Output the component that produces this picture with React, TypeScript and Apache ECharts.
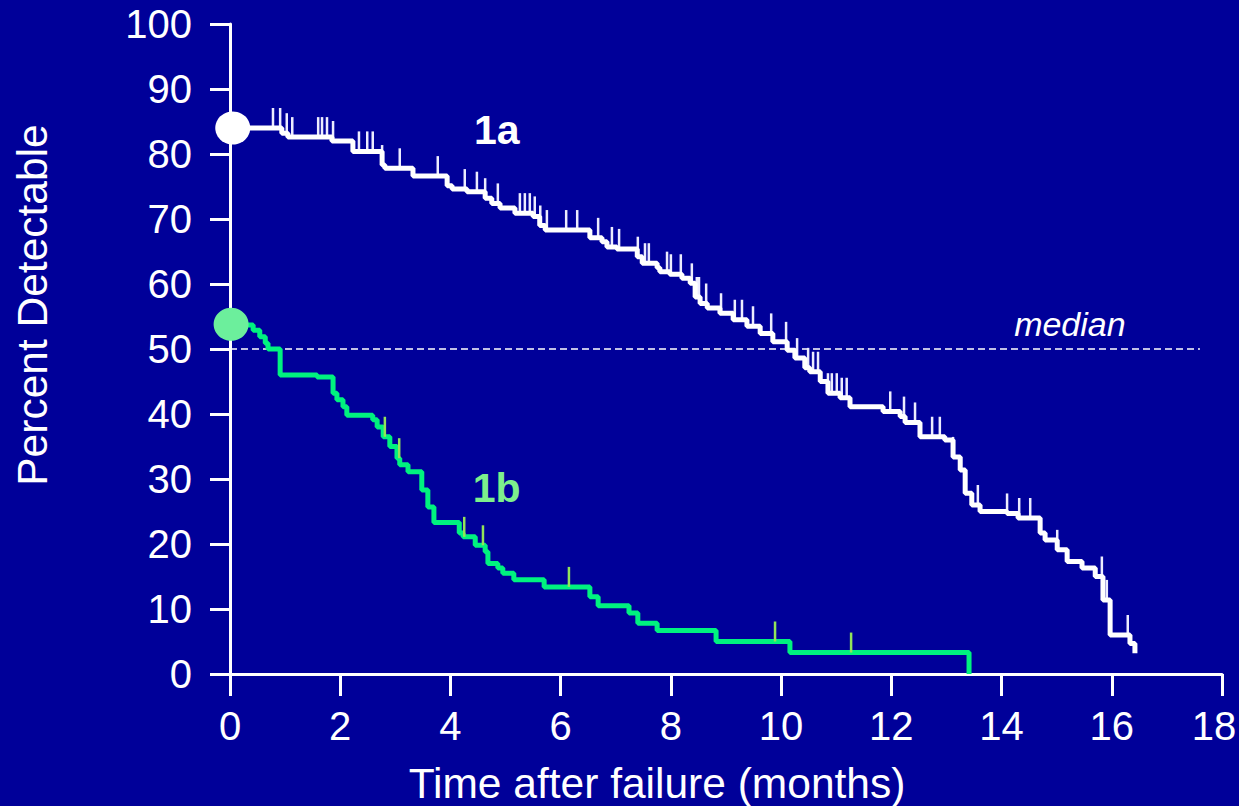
import React, { useEffect, useRef } from "react";
import * as echarts from "echarts";

// Kaplan-Meier style step curves: [time in months, percent detectable from that time on]
const curve1a: [number, number][] = [
  [0.05, 84], [0.94, 83.2], [1.05, 82.6], [1.85, 82.0], [2.23, 80.4], [2.76, 78.3], [2.81, 77.8],
  [3.32, 76.6], [3.94, 75.1], [4.03, 74.6], [4.3, 74.2], [4.63, 73.2], [4.75, 72.4], [4.9, 71.7],
  [5.17, 70.9], [5.5, 70.4], [5.62, 69.0], [5.72, 68.3], [6.53, 67.1], [6.75, 66.5], [6.84, 65.7],
  [7.02, 65.4], [7.39, 64.2], [7.48, 63.2], [7.75, 62.5], [7.8, 61.9], [7.98, 61.5], [8.2, 60.9],
  [8.35, 60.1], [8.44, 58.0], [8.53, 57.0], [8.66, 56.3], [8.89, 55.5], [9.13, 54.5], [9.38, 53.5],
  [9.62, 52.4], [9.85, 51.1], [10.11, 49.8], [10.25, 48.6], [10.43, 47.1], [10.52, 46.5],
  [10.71, 45.0], [10.85, 43.2], [11.07, 42.5], [11.25, 41.1], [11.85, 40.4], [12.16, 39.6],
  [12.25, 38.7], [12.52, 36.5], [12.97, 36.0], [13.12, 33.4], [13.25, 31.4], [13.34, 27.8],
  [13.46, 26.0], [13.61, 25.0], [14.1, 24.7], [14.3, 24.0], [14.7, 21.7], [14.79, 20.6],
  [15.01, 19.1], [15.19, 17.3], [15.46, 16.3], [15.7, 15.0], [15.84, 11.4], [15.97, 6.0],
  [16.33, 4.7], [16.42, 3.2],
];

const curve1b: [number, number][] = [
  [0.04, 53.7], [0.42, 52.9], [0.54, 51.9], [0.64, 50.9], [0.69, 50.0], [0.91, 46.0], [1.58, 45.7],
  [1.87, 43.2], [1.94, 42.2], [2.05, 41.1], [2.12, 39.8], [2.59, 39.1], [2.67, 38.0], [2.78, 36.5],
  [2.9, 35.0], [3.03, 33.2], [3.08, 32.2], [3.23, 31.1], [3.48, 28.3], [3.59, 25.7], [3.7, 23.3],
  [4.16, 21.7], [4.23, 21.1], [4.45, 19.8], [4.63, 18.8], [4.68, 17.0], [4.86, 16.3], [4.95, 15.5],
  [5.15, 14.5], [5.7, 13.4], [6.53, 11.9], [6.68, 10.5], [7.24, 9.4], [7.4, 7.8], [7.75, 6.7],
  [8.82, 5.0], [10.16, 3.3], [13.41, 0],
];

// Censored observation times (months)
const censored1a: number[] = [
  0.78, 0.91, 1.03, 1.13, 1.6, 1.67, 1.76, 1.87, 2.34, 2.49, 2.59, 2.76, 3.08, 3.77, 4.26, 4.48,
  4.63, 4.86, 5.26, 5.35, 5.44, 5.53, 5.63, 5.75, 6.1, 6.3, 6.68, 6.93, 7.06, 7.4, 7.53, 7.6, 7.93,
  8.0, 8.18, 8.38, 8.47, 8.51, 8.64, 8.91, 9.16, 9.29, 9.49, 9.82, 10.09, 10.29, 10.49, 10.58,
  10.67, 10.85, 10.92, 11.01, 11.1, 11.19, 11.98, 12.23, 12.43, 12.74, 12.88, 13.12, 13.57, 14.1,
  14.32, 14.52, 15.01, 15.82, 15.91, 16.29,
];
const censored1b: number[] = [2.81, 3.07, 4.25, 4.59, 6.15, 9.89, 11.27];

const xTicks = { min: 0, max: 18, interval: 2 };
const yTicks = { min: 0, max: 100, interval: 10 };
const medianValue = 50;
const medianEnd = 17.6;

const start1a: [number, number] = [0.05, 84];
const start1b: [number, number] = [0.02, 53.8];

const FONT = "'Liberation Sans', Arial, Helvetica, sans-serif";
const BG = "#000099";
const WHITE = "#ffffff";
const GREEN = "#00f27f";
const GREEN_MARK = "#92e35a";
const GREEN_DOT = "#6cef9c";
const GREEN_TEXT = "#7def8c";

function stepAt(steps: [number, number][], x: number): number {
  let v = steps[0][1];
  for (const [sx, sy] of steps) {
    if (sx <= x) v = sy;
    else break;
  }
  return v;
}

export default function App() {
  const ref = useRef<HTMLDivElement>(null);
  useEffect(() => {
    if (!ref.current) return;
    const chart = echarts.init(ref.current, undefined, { renderer: "svg" });
    const axisCommon = {
      axisLine: { show: true, lineStyle: { color: WHITE, width: 3 } },
      splitLine: { show: false },
    };
    const option: any = {
      animation: false,
      backgroundColor: BG,
      grid: { left: 230, right: 17, top: 24, bottom: 132, outerBoundsMode: "none", containLabel: false },
      xAxis: {
        type: "value",
        ...xTicks,
        ...axisCommon,
        axisTick: { show: true, length: 22, lineStyle: { color: WHITE, width: 3 } },
        axisLabel: {
          color: WHITE,
          fontSize: 40,
          fontFamily: FONT,
          margin: 32,
          formatter: (v: number) => (v === xTicks.max ? `{last|${v}}` : `${v}`),
          rich: {
            last: { color: WHITE, fontSize: 40, fontFamily: FONT, padding: [0, 16, 0, 0] },
          },
        },
      },
      yAxis: {
        type: "value",
        ...yTicks,
        ...axisCommon,
        axisTick: { show: true, length: 20, lineStyle: { color: WHITE, width: 3 } },
        axisLabel: { color: WHITE, fontSize: 40, fontFamily: FONT, margin: 38 },
      },
      graphic: [
        {
          type: "text",
          x: 32,
          y: 305,
          rotation: Math.PI / 2,
          style: {
            text: "Percent Detectable",
            fill: WHITE,
            font: `42.5px ${FONT}`,
            textAlign: "center",
            textVerticalAlign: "middle",
          },
        },
        {
          type: "text",
          x: 657,
          y: 783,
          style: {
            text: "Time after failure (months)",
            fill: WHITE,
            font: `42.5px ${FONT}`,
            textAlign: "center",
            textVerticalAlign: "middle",
          },
        },
      ],
      series: [
        {
          type: "line",
          name: "median",
          data: [[0, medianValue], [medianEnd, medianValue]],
          symbol: "none",
          lineStyle: { color: WHITE, width: 1.5, type: [7, 4] },
          z: 1,
          silent: true,
        },
        {
          type: "scatter",
          name: "censor 1a",
          data: censored1a.map((t) => [t, stepAt(curve1a, t)]),
          symbol: "rect",
          symbolSize: [2.5, 20],
          symbolOffset: [0, -10],
          itemStyle: { color: "#ececff", opacity: 1 },
          clip: false,
          z: 2,
        },
        {
          type: "scatter",
          name: "censor 1b",
          data: censored1b.map((t) => [t, stepAt(curve1b, t)]),
          symbol: "rect",
          symbolSize: [2.5, 20],
          symbolOffset: [0, -10],
          itemStyle: { color: GREEN_MARK, opacity: 1 },
          clip: false,
          z: 4,
        },
        {
          type: "line",
          name: "1a",
          step: "end",
          data: curve1a,
          symbol: "none",
          clip: false,
          lineStyle: { color: WHITE, width: 5 },
          z: 3,
        },
        {
          type: "line",
          name: "1b",
          step: "end",
          data: curve1b,
          symbol: "none",
          clip: false,
          lineStyle: { color: GREEN, width: 5 },
          z: 3,
        },
        {
          type: "scatter",
          name: "start 1a",
          data: [start1a],
          symbol: "circle",
          symbolSize: [35, 33],
          itemStyle: { color: WHITE, opacity: 1 },
          clip: false,
          z: 5,
        },
        {
          type: "scatter",
          name: "start 1b",
          data: [start1b],
          symbol: "circle",
          symbolSize: [35, 33],
          itemStyle: { color: GREEN_DOT, opacity: 1 },
          clip: false,
          z: 5,
        },
        {
          type: "scatter",
          name: "labels",
          symbolSize: 0,
          clip: false,
          z: 6,
          itemStyle: { opacity: 1 },
          data: [
            { value: [4.84, 83.7], label: { formatter: "1a", color: WHITE, fontWeight: "bold", fontSize: 41 } },
            { value: [4.84, 28.6], label: { formatter: "1b", color: GREEN_TEXT, fontWeight: "bold", fontSize: 41 } },
            { value: [15.24, 53.8], label: { formatter: "median", color: WHITE, fontStyle: "italic", fontSize: 34 } },
          ],
          label: { show: true, position: "inside", fontFamily: FONT, opacity: 1 },
        },
      ],
    };
    chart.setOption(option);
    return () => chart.dispose();
  }, []);
  return (
    <div
      ref={ref}
      style={{ position: "fixed", left: 0, top: 0, width: 1239, height: 806, background: BG }}
    />
  );
}
